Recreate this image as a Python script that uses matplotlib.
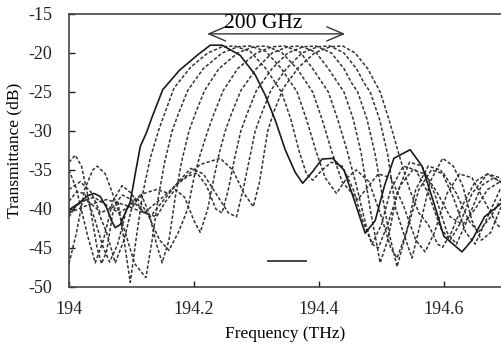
import numpy as np
import matplotlib
matplotlib.use("Agg")
import matplotlib.pyplot as plt
from matplotlib.lines import Line2D

plt.rcParams['font.family'] = ['Liberation Serif', 'DejaVu Serif']
plt.rcParams['axes.unicode_minus'] = False

# Solid trace (reference channel), (frequency THz, transmittance dB)
solid = [
    (194.000, -40.1), (194.015, -39.3), (194.030, -38.3), (194.040, -38.0),
    (194.050, -38.4), (194.060, -39.8), (194.068, -41.5), (194.074, -42.4),
    (194.082, -42.0), (194.090, -40.5), (194.098, -39.1), (194.106, -35.5),
    (194.114, -32.0), (194.124, -30.2), (194.133, -28.2), (194.150, -24.7),
    (194.177, -22.2), (194.205, -20.3), (194.226, -19.0), (194.245, -19.0),
    (194.274, -20.3), (194.298, -22.8), (194.314, -25.4), (194.330, -28.6),
    (194.346, -32.4), (194.362, -35.3), (194.374, -36.7), (194.390, -35.2),
    (194.405, -33.6), (194.422, -33.5), (194.440, -35.0), (194.455, -38.5),
    (194.474, -43.1), (194.490, -41.5), (194.505, -37.0), (194.520, -33.5),
    (194.546, -32.4), (194.565, -34.5), (194.585, -39.5), (194.600, -43.5),
    (194.629, -45.5), (194.645, -44.0), (194.665, -41.0), (194.693, -39.2),
]

# Dotted traces (tuned channels)
dot1 = [
    (194.000, -34.0), (194.010, -33.1), (194.020, -34.5), (194.032, -39.0),
    (194.045, -45.0), (194.052, -47.0), (194.060, -45.5), (194.070, -40.5),
    (194.078, -39.0), (194.088, -44.0), (194.098, -49.4), (194.108, -43.5),
    (194.118, -38.0), (194.130, -33.5), (194.143, -30.0), (194.152, -28.0),
    (194.168, -24.5), (194.195, -21.8), (194.222, -20.0), (194.245, -19.2),
    (194.265, -19.1), (194.290, -19.8), (194.315, -22.0), (194.330, -23.8),
    (194.340, -25.0), (194.355, -28.5), (194.368, -32.5), (194.380, -35.5),
    (194.390, -36.3), (194.405, -35.0), (194.420, -34.0), (194.437, -34.5),
    (194.455, -37.5), (194.470, -41.5), (194.485, -44.5), (194.495, -45.0),
    (194.510, -42.0), (194.530, -37.0), (194.550, -35.0), (194.570, -35.5),
    (194.590, -38.0), (194.610, -41.0), (194.630, -42.0), (194.650, -40.0),
    (194.670, -37.5), (194.700, -36.0),
]
dot2 = [
    (194.000, -47.0), (194.012, -43.0), (194.025, -37.5), (194.038, -35.0),
    (194.045, -34.5), (194.058, -35.5), (194.072, -38.5), (194.090, -43.0),
    (194.105, -47.0), (194.123, -48.8), (194.133, -44.0), (194.143, -38.5),
    (194.153, -34.0), (194.165, -30.0), (194.175, -27.8), (194.190, -24.8),
    (194.215, -22.0), (194.245, -20.0), (194.270, -19.2), (194.290, -19.1),
    (194.315, -19.8), (194.340, -22.0), (194.355, -23.8), (194.365, -25.0),
    (194.380, -28.5), (194.395, -32.5), (194.410, -36.0), (194.428, -38.0),
    (194.445, -36.0), (194.460, -35.0), (194.480, -36.5), (194.500, -41.0),
    (194.515, -45.0), (194.525, -46.3), (194.540, -43.0), (194.560, -37.5),
    (194.580, -35.0), (194.600, -35.5), (194.620, -38.0), (194.640, -41.5),
    (194.655, -43.0), (194.675, -41.0), (194.700, -37.5),
]
dot3 = [
    (194.000, -41.0), (194.012, -39.5), (194.028, -38.8), (194.045, -40.0),
    (194.060, -43.0), (194.074, -46.9), (194.088, -44.0), (194.100, -40.0),
    (194.115, -38.0), (194.128, -40.5), (194.140, -44.5), (194.149, -46.9),
    (194.160, -44.0), (194.170, -38.5), (194.180, -34.0), (194.192, -30.0),
    (194.202, -27.8), (194.217, -24.8), (194.240, -22.0), (194.270, -20.0),
    (194.295, -19.2), (194.315, -19.1), (194.340, -19.9), (194.365, -22.0),
    (194.380, -23.8), (194.390, -25.0), (194.405, -28.5), (194.420, -32.5),
    (194.437, -36.5), (194.462, -38.8), (194.480, -37.0), (194.495, -35.5),
    (194.515, -36.0), (194.535, -39.5), (194.555, -44.0), (194.570, -45.5),
    (194.585, -43.0), (194.605, -38.0), (194.625, -35.5), (194.645, -36.0),
    (194.665, -39.0), (194.685, -42.0), (194.700, -43.0),
]
dot4 = [
    (194.000, -39.0), (194.012, -37.8), (194.025, -38.0), (194.040, -41.0),
    (194.055, -45.0), (194.065, -46.8), (194.078, -44.5), (194.092, -40.0),
    (194.108, -38.5), (194.125, -40.5), (194.145, -44.0), (194.160, -45.3),
    (194.175, -43.0), (194.190, -40.0), (194.200, -36.0), (194.210, -33.0),
    (194.222, -30.0), (194.232, -27.8), (194.247, -24.8), (194.270, -22.0),
    (194.300, -20.0), (194.325, -19.2), (194.345, -19.1), (194.370, -19.9),
    (194.390, -22.0), (194.405, -23.8), (194.415, -25.0), (194.430, -28.5),
    (194.445, -32.5), (194.460, -37.0), (194.475, -42.0), (194.485, -44.5),
    (194.500, -42.0), (194.515, -37.5), (194.535, -34.5), (194.555, -35.0),
    (194.575, -38.0), (194.595, -42.5), (194.610, -44.0), (194.625, -42.0),
    (194.645, -38.0), (194.670, -35.5), (194.690, -36.0), (194.700, -36.8),
]
dot5 = [
    (194.000, -37.5), (194.018, -36.5), (194.035, -37.8), (194.050, -40.5),
    (194.070, -39.8), (194.085, -38.2), (194.100, -38.8), (194.120, -40.5),
    (194.140, -41.0), (194.155, -39.0), (194.170, -37.5), (194.185, -38.5),
    (194.200, -41.5), (194.210, -43.0), (194.222, -40.0), (194.232, -36.0),
    (194.240, -33.0), (194.250, -30.0), (194.260, -27.8), (194.275, -24.8),
    (194.300, -22.0), (194.325, -20.0), (194.350, -19.2), (194.370, -19.1),
    (194.395, -19.9), (194.415, -22.0), (194.430, -23.8), (194.440, -25.0),
    (194.455, -28.5), (194.468, -33.0), (194.482, -40.0), (194.498, -46.9),
    (194.510, -44.0), (194.525, -38.0), (194.545, -34.0), (194.565, -34.5),
    (194.585, -38.0), (194.605, -43.0), (194.620, -44.5), (194.640, -41.0),
    (194.660, -37.0), (194.680, -36.0), (194.700, -37.0),
]
dot6 = [
    (194.000, -35.0), (194.012, -37.5), (194.030, -43.5), (194.042, -46.9),
    (194.055, -44.0), (194.070, -39.0), (194.085, -37.0), (194.100, -38.0),
    (194.115, -40.0), (194.130, -41.0), (194.150, -39.0), (194.170, -37.0),
    (194.190, -35.8), (194.205, -35.4), (194.220, -37.0), (194.235, -40.0),
    (194.245, -40.5), (194.255, -37.5), (194.265, -33.5), (194.275, -30.0),
    (194.285, -27.8), (194.300, -24.8), (194.325, -22.0), (194.350, -20.0),
    (194.375, -19.2), (194.395, -19.1), (194.420, -20.0), (194.440, -22.0),
    (194.452, -23.8), (194.462, -25.0), (194.477, -28.5), (194.490, -33.0),
    (194.503, -39.0), (194.512, -43.0), (194.525, -47.4), (194.540, -43.0),
    (194.555, -37.5), (194.575, -34.5), (194.595, -35.0), (194.615, -38.5),
    (194.635, -43.0), (194.650, -44.5), (194.670, -41.0), (194.690, -37.5),
    (194.700, -36.5),
]
dot7 = [
    (194.000, -40.5), (194.020, -39.0), (194.040, -38.5), (194.060, -39.5),
    (194.080, -40.5), (194.100, -39.5), (194.120, -38.0), (194.140, -37.5),
    (194.160, -38.0), (194.175, -36.5), (194.195, -34.8), (194.215, -35.5),
    (194.235, -38.0), (194.255, -40.5), (194.268, -41.0), (194.280, -37.0),
    (194.289, -33.5), (194.298, -30.0), (194.308, -27.8), (194.323, -24.8),
    (194.348, -22.0), (194.373, -20.0), (194.398, -19.2), (194.418, -19.1),
    (194.440, -20.0), (194.460, -22.0), (194.472, -23.8), (194.482, -25.0),
    (194.497, -28.5), (194.510, -33.0), (194.523, -40.0), (194.535, -43.0),
    (194.549, -46.3), (194.562, -42.0), (194.578, -36.5), (194.598, -33.5),
    (194.615, -34.5), (194.630, -37.0), (194.645, -41.5), (194.660, -44.0),
    (194.675, -43.0), (194.690, -40.0), (194.700, -38.5),
]
dot8 = [
    (194.000, -40.5), (194.030, -39.5), (194.060, -38.8), (194.090, -39.5),
    (194.120, -40.5), (194.150, -38.5), (194.180, -36.3), (194.210, -34.3),
    (194.242, -33.5), (194.262, -35.0), (194.280, -38.0), (194.295, -39.7),
    (194.305, -36.5), (194.312, -33.0), (194.318, -30.0), (194.328, -27.5),
    (194.343, -24.5), (194.368, -21.8), (194.393, -20.0), (194.418, -19.2),
    (194.438, -19.1), (194.458, -20.0), (194.478, -22.0), (194.490, -23.8),
    (194.498, -25.0), (194.512, -28.5), (194.528, -33.0), (194.545, -37.5),
    (194.560, -40.5), (194.575, -42.0), (194.590, -44.5), (194.598, -44.9),
    (194.612, -43.0), (194.630, -39.5), (194.650, -36.5), (194.670, -35.5),
    (194.690, -36.5), (194.700, -37.5),
]
dotted = [dot1, dot2, dot3, dot4, dot5, dot6, dot7, dot8]

x_ticks = [194, 194.2, 194.4, 194.6]
x_tick_labels = ['194', '194.2', '194.4', '194.6']
y_ticks = [-50, -45, -40, -35, -30, -25, -20, -15]

# Span marker for the tuning range
span_start, span_end, span_level = 194.221, 194.442, -17.55
span_text = '200 GHz'
span_text_x = 194.311

fig = plt.figure(figsize=(5.02, 3.49), dpi=100)
ax = fig.add_axes([0.1375, 0.1777, 0.8625, 0.7822])

for trace in dotted:
    f, t = zip(*trace)
    ax.plot(f, t, color='#333333', lw=1.1, linestyle=(0, (2.2, 1.3)))

f, t = zip(*solid)
ax.plot(f, t, color='#1a1a1a', lw=1.2)

ax.annotate('', xy=(span_start, span_level), xytext=(span_end, span_level),
            arrowprops=dict(arrowstyle='<->, head_length=0.4, head_width=0.17',
                            color='#333333', lw=1.0,
                            mutation_scale=30, shrinkA=0, shrinkB=0))
ax.text(span_text_x, span_level + 0.12, span_text,
        ha='center', va='bottom', fontsize=15.5)

handle = Line2D([], [], color='#444444', lw=1.4)
ax.legend([handle], [''], loc='lower left', bbox_to_anchor=(0.444, 0.04),
          frameon=False, handlelength=2.7, handletextpad=0, borderpad=0)

ax.set_xlim(194, 194.693)
ax.set_ylim(-50, -15)
ax.set_xticks(x_ticks)
ax.set_xticklabels(x_tick_labels)
ax.set_yticks(y_ticks)
ax.tick_params(direction='in', length=4, width=1, labelsize=13, colors='#222222')
ax.tick_params(axis='x', pad=10)
ax.tick_params(axis='y', pad=12)
for side in ['left', 'bottom', 'top']:
    ax.spines[side].set_color('#444444')
    ax.spines[side].set_linewidth(1.2)
ax.spines['right'].set_visible(False)

ax.set_xlabel('Frequency (THz)', fontsize=12.5, labelpad=6)
ax.set_ylabel('Transmittance (dB)', fontsize=12.5, labelpad=4)

fig.savefig('out.png', dpi=100)
